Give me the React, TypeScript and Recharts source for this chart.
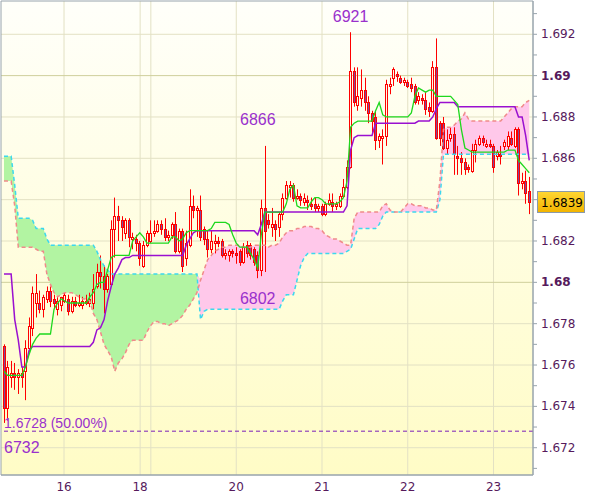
import React from 'react'
import { ComposedChart, XAxis, YAxis, Bar, Line, Area, CartesianGrid, ReferenceLine, ReferenceArea, ReferenceDot } from 'recharts'

// hourly candles, prices in pips (1.6839 -> 6839)
const opens = [
  6769, 6739, 6754, 6756, 6754, 6756, 6757, 6768, 6778, 6790, 6790, 6787, 6792, 6796, 6792, 6787, 6789, 6791, 6792, 6786,
  6791, 6789, 6789, 6791, 6790, 6790, 6798, 6805, 6803, 6797, 6799, 6826, 6832, 6830, 6824, 6830, 6821, 6821, 6819, 6808,
  6818, 6820, 6824, 6825, 6828, 6826, 6822, 6823, 6828, 6815, 6825, 6812, 6818, 6837, 6835, 6835, 6826, 6821, 6816, 6819,
  6820, 6820, 6813, 6813, 6815, 6814, 6815, 6810, 6818, 6818, 6816, 6813, 6806, 6836, 6830, 6827, 6828, 6827, 6833, 6841,
  6846, 6847, 6841, 6842, 6839, 6840, 6838, 6838, 6836, 6837, 6833, 6838, 6839, 6837, 6837, 6842, 6846, 6856, 6902, 6886,
  6889, 6893, 6887, 6882, 6880, 6869, 6870, 6871, 6895, 6899, 6901, 6899, 6897, 6897, 6896, 6895, 6888, 6889, 6888, 6885,
  6883, 6904, 6877, 6877, 6865, 6870, 6872, 6861, 6860, 6858, 6856, 6854, 6864, 6867, 6870, 6866, 6867, 6866, 6861, 6862,
  6866, 6866, 6870, 6866, 6874, 6848, 6849, 6844,
]
const highs = [
  6770, 6762, 6762, 6761, 6758, 6759, 6772, 6783, 6798, 6804, 6796, 6794, 6798, 6798, 6794, 6793, 6793, 6795, 6794, 6793,
  6793, 6794, 6793, 6794, 6795, 6804, 6809, 6813, 6808, 6804, 6830, 6841, 6837, 6832, 6831, 6831, 6824, 6823, 6820, 6820,
  6825, 6830, 6830, 6830, 6830, 6831, 6825, 6829, 6834, 6826, 6826, 6825, 6845, 6842, 6837, 6842, 6827, 6825, 6825, 6823,
  6822, 6821, 6816, 6816, 6816, 6817, 6816, 6819, 6820, 6819, 6817, 6815, 6840, 6866, 6833, 6836, 6830, 6834, 6843, 6849,
  6849, 6848, 6845, 6843, 6843, 6842, 6841, 6841, 6838, 6838, 6839, 6843, 6843, 6839, 6843, 6850, 6859, 6921, 6904, 6904,
  6903, 6899, 6890, 6883, 6883, 6872, 6874, 6898, 6899, 6904, 6902, 6900, 6899, 6898, 6899, 6896, 6892, 6891, 6892, 6887,
  6907, 6918, 6878, 6880, 6874, 6875, 6875, 6866, 6863, 6860, 6857, 6867, 6869, 6871, 6871, 6869, 6869, 6867, 6864, 6866,
  6869, 6873, 6873, 6875, 6875, 6853, 6854, 6851,
]
const lows = [
  6732, 6733, 6749, 6748, 6746, 6749, 6743, 6766, 6774, 6783, 6785, 6783, 6790, 6788, 6787, 6784, 6786, 6790, 6784, 6785,
  6788, 6788, 6787, 6789, 6788, 6787, 6797, 6797, 6785, 6795, 6798, 6812, 6820, 6820, 6821, 6817, 6816, 6815, 6808, 6807,
  6817, 6819, 6822, 6824, 6823, 6820, 6820, 6821, 6814, 6814, 6805, 6808, 6817, 6831, 6822, 6820, 6818, 6812, 6814, 6814,
  6817, 6812, 6811, 6810, 6812, 6809, 6808, 6809, 6812, 6811, 6808, 6802, 6803, 6805, 6826, 6822, 6820, 6822, 6830, 6840,
  6841, 6839, 6840, 6837, 6837, 6835, 6835, 6834, 6834, 6832, 6832, 6837, 6834, 6835, 6836, 6841, 6845, 6855, 6885, 6883,
  6885, 6883, 6877, 6872, 6864, 6865, 6857, 6866, 6891, 6895, 6897, 6896, 6895, 6894, 6892, 6886, 6886, 6886, 6881, 6880,
  6882, 6869, 6866, 6864, 6862, 6868, 6852, 6852, 6852, 6852, 6853, 6853, 6858, 6866, 6866, 6865, 6865, 6853, 6859, 6857,
  6864, 6864, 6866, 6865, 6842, 6845, 6838, 6833,
]
const closes = [
  6739, 6759, 6756, 6754, 6756, 6754, 6768, 6779, 6795, 6795, 6787, 6793, 6796, 6791, 6790, 6791, 6793, 6794, 6786, 6791,
  6789, 6790, 6791, 6790, 6792, 6797, 6805, 6803, 6797, 6803, 6826, 6832, 6830, 6827, 6830, 6822, 6822, 6819, 6812, 6818,
  6824, 6824, 6825, 6828, 6826, 6822, 6823, 6828, 6815, 6825, 6808, 6819, 6837, 6835, 6836, 6822, 6821, 6816, 6820, 6820,
  6819, 6813, 6814, 6815, 6814, 6813, 6810, 6817, 6814, 6813, 6810, 6806, 6836, 6825, 6828, 6828, 6826, 6833, 6841, 6847,
  6847, 6841, 6842, 6840, 6841, 6839, 6837, 6836, 6837, 6833, 6838, 6840, 6837, 6838, 6842, 6846, 6856, 6902, 6887, 6890,
  6893, 6887, 6882, 6878, 6869, 6871, 6871, 6896, 6896, 6903, 6900, 6897, 6898, 6895, 6894, 6887, 6890, 6888, 6884, 6883,
  6904, 6870, 6870, 6865, 6869, 6872, 6862, 6860, 6858, 6855, 6855, 6864, 6867, 6870, 6868, 6867, 6866, 6856, 6863, 6861,
  6868, 6871, 6867, 6874, 6848, 6849, 6843, 6839,
]
// ichimoku lines
const tenkan = [
  6757, 6755, 6755, 6755, 6755, 6755, 6759, 6765, 6770, 6773, 6775, 6775, 6775, 6775, 6787, 6790, 6792, 6791, 6790, 6790,
  6790, 6790, 6790, 6790, 6793, 6795, 6799, 6800, 6800, 6806, 6812, 6813, 6813, 6813, 6813, 6813, 6820, 6822, 6824, 6822,
  6819, 6819, 6819, 6819, 6819, 6819, 6819, 6822, 6822, 6820, 6821, 6824, 6825, 6825, 6825, 6825, 6825, 6825, 6826, 6829,
  6829, 6829, 6829, 6828, 6823, 6819, 6817, 6817, 6817, 6814, 6811, 6807, 6823, 6834, 6834, 6834, 6834, 6834, 6834, 6838,
  6845, 6847, 6837, 6836, 6836, 6836, 6839, 6841, 6841, 6840, 6838, 6838, 6838, 6838, 6839, 6841, 6849, 6875, 6877, 6878,
  6878, 6878, 6878, 6878, 6883, 6887, 6881, 6880, 6880, 6880, 6880, 6880, 6880, 6880, 6882, 6890, 6894, 6893, 6892, 6893,
  6893, 6890, 6890, 6890, 6890, 6890, 6888, 6886, 6874, 6865, 6864, 6863, 6863, 6863, 6863, 6863, 6863, 6863, 6863, 6863,
  6863, 6864, 6864, 6864, 6859, 6857, 6855, 6853,
]
const kijun = [
  6804, 6804, 6804, 6782, 6772, 6759, 6759, 6767, 6769, 6769, 6769, 6769, 6769, 6769, 6769, 6769, 6769, 6769, 6769, 6769,
  6769, 6769, 6769, 6769, 6769, 6771, 6777, 6778, 6782, 6791, 6798, 6804, 6807, 6811, 6812, 6812, 6813, 6813, 6813, 6813,
  6813, 6813, 6813, 6813, 6813, 6813, 6813, 6813, 6813, 6813, 6813, 6818, 6821, 6824, 6825, 6825, 6825, 6825, 6825, 6825,
  6825, 6825, 6825, 6825, 6825, 6825, 6825, 6825, 6825, 6825, 6825, 6823, 6828, 6834, 6834, 6834, 6834, 6834, 6834, 6834,
  6834, 6834, 6834, 6834, 6834, 6834, 6834, 6834, 6834, 6834, 6834, 6834, 6834, 6834, 6834, 6834, 6837, 6864, 6870, 6871,
  6871, 6871, 6871, 6871, 6877, 6877, 6877, 6877, 6877, 6877, 6877, 6877, 6877, 6877, 6877, 6877, 6878, 6878, 6878, 6878,
  6880, 6884, 6887, 6887, 6887, 6887, 6887, 6885, 6885, 6885, 6885, 6885, 6885, 6885, 6885, 6885, 6885, 6885, 6885, 6885,
  6885, 6885, 6885, 6885, 6880, 6880, 6871, 6859,
]
const spanA = [
  6861, 6861, 6861, 6847, 6831, 6831, 6831, 6831, 6830, 6826, 6826, 6826, 6821, 6818, 6818, 6818, 6818, 6818, 6818, 6818,
  6818, 6818, 6818, 6818, 6818, 6818, 6815, 6811, 6808, 6806, 6804, 6804, 6804, 6804, 6804, 6804, 6804, 6804, 6804, 6804,
  6804, 6804, 6804, 6804, 6804, 6804, 6804, 6804, 6804, 6804, 6804, 6804, 6804, 6804, 6804, 6782, 6786, 6787, 6787, 6787,
  6787, 6787, 6787, 6787, 6787, 6787, 6787, 6787, 6787, 6787, 6787, 6787, 6787, 6787, 6787, 6787, 6787, 6787, 6791, 6794,
  6794, 6794, 6801, 6808, 6812, 6814, 6814, 6814, 6814, 6814, 6814, 6814, 6814, 6814, 6814, 6814, 6815, 6816, 6821, 6826,
  6826, 6826, 6826, 6826, 6826, 6828, 6832, 6834, 6834, 6834, 6834, 6834, 6834, 6834, 6834, 6834, 6834, 6834, 6834, 6834,
  6834, 6834, 6840, 6862, 6862, 6862, 6862, 6862, 6862, 6862, 6862, 6862, 6862, 6862, 6862, 6862, 6862, 6862, 6862, 6862,
  6862, 6862, 6862, 6862, 6862, 6862, 6862, 6862,
]
const spanB = [
  6849, 6849, 6849, 6837, 6817, 6817, 6817, 6817, 6817, 6816, 6815, 6815, 6804, 6799, 6795, 6793, 6794, 6795, 6795, 6795,
  6794, 6793, 6792, 6792, 6791, 6785, 6782, 6776, 6770, 6767, 6764, 6757, 6761, 6763, 6766, 6770, 6772, 6772, 6772, 6772,
  6776, 6779, 6781, 6781, 6780, 6780, 6779, 6780, 6781, 6782, 6784, 6787, 6789, 6792, 6795, 6801, 6806, 6811, 6813, 6815,
  6816, 6817, 6817, 6818, 6818, 6818, 6818, 6817, 6817, 6817, 6818, 6818, 6818, 6818, 6817, 6818, 6818, 6819, 6822, 6824,
  6825, 6825, 6826, 6826, 6827, 6827, 6827, 6826, 6826, 6825, 6823, 6822, 6821, 6821, 6820, 6819, 6818, 6818, 6831, 6834,
  6834, 6834, 6834, 6834, 6834, 6834, 6837, 6838, 6835, 6834, 6834, 6834, 6836, 6838, 6838, 6837, 6837, 6837, 6836, 6836,
  6835, 6835, 6849, 6874, 6875, 6875, 6876, 6878, 6879, 6882, 6879, 6878, 6878, 6878, 6878, 6878, 6878, 6878, 6878, 6878,
  6880, 6882, 6884, 6885, 6885, 6885, 6887, 6888,
]

// day labels (positions in bar index)
const xTickIdx = [16.8, 38.1, 41.1, 65, 89, 113, 137]
const xTickLabels = ['16', '18', '', '20', '21', '22', '23']
const yTicks = [
  1.671, 1.672, 1.673, 1.674, 1.675, 1.676, 1.677, 1.678, 1.679, 1.68, 1.681, 1.682,
  1.683, 1.684, 1.685, 1.686, 1.687, 1.688, 1.689, 1.69, 1.691, 1.692, 1.693,
]
const gridMinor = [1.672, 1.674, 1.676, 1.678, 1.682, 1.684, 1.686, 1.688, 1.692]
const gridMajor = [1.68, 1.69]
const fiboLevel = 1.6728
const fiboLabel = '1.6728 (50.00%)'

const toPrice = (pip: number) => 1 + pip / 10000

const data = opens.map((o, i) => {
  const a = toPrice(spanA[i])
  const b = toPrice(spanB[i])
  const low = toPrice(lows[i])
  const high = toPrice(highs[i])
  return {
    i,
    open: toPrice(o),
    close: toPrice(closes[i]),
    high,
    low,
    range: [low, high],
    tenkan: toPrice(tenkan[i]),
    kijun: toPrice(kijun[i]),
    spanA: a,
    spanB: b,
    greenCloud: [b, Math.max(a, b)],
    pinkCloud: [a, Math.max(a, b)],
  }
})

const lastPrice = toPrice(closes[closes.length - 1])
const hiIdx = highs.indexOf(Math.max(...highs))
const loIdx = lows.indexOf(Math.min(...lows))

const X_DOMAIN: [number, number] = [-0.84, 148.05]
const Y_DOMAIN: [number, number] = [1.67068, 1.69361]
const AXIS_COLOR = '#98a4ac'
const TICK_COLOR = '#561a5c'
const NOTE_COLOR = '#9a30cc'

const Candle = (props: any) => {
  const { x, y, width, height, payload } = props
  if (!payload || height == null) return null
  const top = Math.min(y, y + height)
  const h = Math.abs(height)
  const { open, close, high, low } = payload
  const span = high - low || 1e-9
  const py = (p: number) => top + ((high - p) / span) * h
  const cx = Math.round(x + width / 2) + 0.5
  const bTop = Math.round(py(Math.max(open, close))) + 0.5
  const bBot = Math.round(py(Math.min(open, close))) + 0.5
  const bull = close >= open
  return (
    <g>
      <line x1={cx} x2={cx} y1={top} y2={top + h} stroke="#ff0000" strokeWidth={1} />
      <rect
        x={cx - 1}
        y={bTop}
        width={2}
        height={Math.max(1, bBot - bTop)}
        fill={bull ? '#fffbe6' : '#7e4a9c'}
        stroke="#ff0000"
        strokeWidth={1}
      />
    </g>
  )
}

const YTick = (props: any) => {
  const { x, y, payload } = props
  const v = payload.value
  const m = Math.round(v * 1000)
  if (m % 2 !== 0) return null
  if (Math.abs(v - lastPrice) < 0.0006) return null
  const bold = m % 10 === 0
  return (
    <text x={x} y={y} dy={4} textAnchor="start" fontFamily="DejaVu Sans" fontSize={12}
      fontWeight={bold ? 700 : 400} fill={TICK_COLOR}>
      {bold ? (m / 1000).toFixed(2) : (m / 1000).toFixed(3)}
    </text>
  )
}

const XTick = (props: any) => {
  const { x, y, index } = props
  const label = xTickLabels[index]
  if (!label) return null
  return (
    <text x={x} y={y} dy={16} textAnchor="middle" fontFamily="DejaVu Sans" fontSize={12} fill={TICK_COLOR}>
      {label}
    </text>
  )
}

const Note = (props: any) => {
  const { viewBox, text, dx = 0, dy = 0, anchor = 'middle', size = 16 } = props
  if (!viewBox) return null
  const cx = viewBox.x + (viewBox.width || 0) / 2
  const cy = viewBox.y + (viewBox.height || 0) / 2
  return (
    <text x={cx + dx} y={cy + dy} textAnchor={anchor} fontFamily="Liberation Sans, Arial" fontSize={size} fill={NOTE_COLOR}>
      {text}
    </text>
  )
}

const FiboLabel = (props: any) => {
  const { viewBox } = props
  if (!viewBox) return null
  return (
    <text x={viewBox.x + 3} y={viewBox.y - 3} fontFamily="Liberation Sans, Arial" fontSize={14} fill={NOTE_COLOR}>
      {fiboLabel}
    </text>
  )
}

const PriceBox = (props: any) => {
  const { viewBox } = props
  if (!viewBox) return null
  const bx = viewBox.x + viewBox.width + 4
  const by = Math.round(viewBox.y) - 10.5
  return (
    <g>
      <rect x={bx + 0.5} y={by} width={47} height={21} fill="url(#goldGrad)" stroke="#8a9aaa" strokeWidth={1} />
      <text x={bx + 4} y={by + 15} fontFamily="DejaVu Sans" fontSize={12} fill="#000">
        {lastPrice.toFixed(4)}
      </text>
    </g>
  )
}

export default function App() {
  return (
    <div style={{ position: 'absolute', left: 0, top: 0, width: 600, height: 497, background: '#fff' }}>
      <ComposedChart width={600} height={497} data={data} margin={{ top: 1, right: 0, bottom: 0, left: 1 }}>
        <defs>
          <linearGradient id="bgGrad" x1="0" y1="0" x2="0" y2="1">
            <stop offset="0%" stopColor="#fffffa" />
            <stop offset="100%" stopColor="#fffcc6" />
          </linearGradient>
          <linearGradient id="goldGrad" x1="0" y1="0" x2="0" y2="1">
            <stop offset="0%" stopColor="#ffd633" />
            <stop offset="100%" stopColor="#f2b400" />
          </linearGradient>
        </defs>
        <CartesianGrid fill="url(#bgGrad)" stroke="#e3e1c4" horizontalValues={gridMinor} verticalValues={xTickIdx} />
        <CartesianGrid stroke="#cfcf9c" horizontalValues={gridMajor} vertical={false} />
        <XAxis
          dataKey="i"
          type="number"
          domain={X_DOMAIN}
          allowDataOverflow
          ticks={xTickIdx}
          interval={0}
          height={22}
          tickLine={false}
          tickSize={0}
          tickMargin={0}
          axisLine={{ stroke: AXIS_COLOR }}
          tick={<XTick />}
        />
        <YAxis
          orientation="right"
          type="number"
          domain={Y_DOMAIN}
          allowDataOverflow
          ticks={yTicks}
          interval={0}
          width={67}
          tickSize={4}
          tickMargin={4}
          tickLine={{ stroke: AXIS_COLOR }}
          axisLine={{ stroke: AXIS_COLOR }}
          tick={<YTick />}
        />
        <Area dataKey="greenCloud" type="linear" stroke="none" fill="#b2f4a2" fillOpacity={1} isAnimationActive={false} />
        <Area dataKey="pinkCloud" type="linear" stroke="none" fill="#ffc8ea" fillOpacity={1} isAnimationActive={false} />
        <Line dataKey="spanA" type="linear" stroke="#3cd8ee" strokeWidth={1.5} strokeDasharray="4 3" dot={false} isAnimationActive={false} />
        <Line dataKey="spanB" type="linear" stroke="#f08a8a" strokeWidth={1.5} strokeDasharray="4 3" dot={false} isAnimationActive={false} />
        <Bar dataKey="range" barSize={3} shape={<Candle />} isAnimationActive={false} />
        <Line dataKey="kijun" type="linear" stroke="#9a10d0" strokeWidth={1.5} dot={false} isAnimationActive={false} />
        <Line dataKey="tenkan" type="linear" stroke="#1ed81e" strokeWidth={1.3} dot={false} isAnimationActive={false} />
        <ReferenceLine y={fiboLevel} stroke="#7a1fb8" strokeDasharray="4 3" label={<FiboLabel />} />
        <ReferenceLine y={lastPrice} stroke="none" label={<PriceBox />} />
        <ReferenceDot x={hiIdx} y={toPrice(highs[hiIdx])} r={1} fillOpacity={0} stroke="none"
          label={<Note text={String(highs[hiIdx])} dy={-10} />} />
        <ReferenceDot x={73} y={toPrice(highs[73])} r={1} fillOpacity={0} stroke="none"
          label={<Note text={String(highs[73])} dx={-7} dy={-21} />} />
        <ReferenceDot x={71} y={toPrice(lows[71])} r={1} fillOpacity={0} stroke="none"
          label={<Note text={String(lows[71])} dy={26} />} />
        <ReferenceDot x={loIdx} y={toPrice(lows[loIdx])} r={1} fillOpacity={0} stroke="none"
          label={<Note text={String(lows[loIdx])} anchor="start" dy={30} />} />
        <ReferenceArea x1={X_DOMAIN[0]} x2={X_DOMAIN[1]} y1={Y_DOMAIN[0]} y2={Y_DOMAIN[1]} fill="none" stroke={AXIS_COLOR} />
      </ComposedChart>
    </div>
  )
}
